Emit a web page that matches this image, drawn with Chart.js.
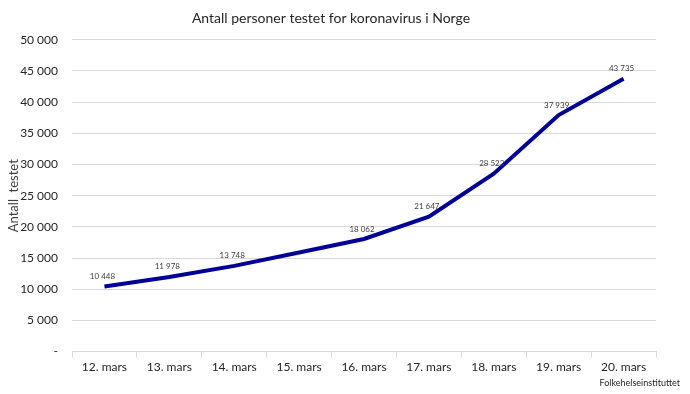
<!DOCTYPE html>
<html>
  <head>
    <meta charset="utf-8">
    <script src="https://cdn.jsdelivr.net/npm/chart.js@4"></script>
    <style>
      body { margin: 0; background: #fff; }
      #wrap { width: 690px; height: 394px; }
    </style>
  </head>
  <body>
    <div id="wrap"><canvas id="myChart"></canvas></div>

    <script>
      var days = ['12. mars', '13. mars', '14. mars', '15. mars', '16. mars', '17. mars', '18. mars', '19. mars', '20. mars']
      var tested = [10448, 11978, 13748, 15900, 18062, 21647, 28523, 37939, 43735]
      // 15. mars has no value label in the original
      var showLabel = [true, true, true, false, true, true, true, true, true]
      var yTicks = [0, 5000, 10000, 15000, 20000, 25000, 30000, 35000, 40000, 45000, 50000]
      var source = 'Folkehelseinstituttet'

      var fontName = 'Lato, "Open Sans", sans-serif'

      function fmt(v) {
        if (v === 0) return '-'
        return String(v).replace(/\B(?=(\d{3})+(?!\d))/g, ' ')
      }

      var valueLabels = {
        id: 'valueLabels',
        afterDatasetsDraw: function (chart) {
          var ctx = chart.ctx
          var meta = chart.getDatasetMeta(0)
          ctx.save()
          ctx.font = '8px ' + fontName
          ctx.fillStyle = '#404040'
          ctx.textAlign = 'center'
          ctx.textBaseline = 'bottom'
          meta.data.forEach(function (pt, i) {
            if (!showLabel[i]) return
            ctx.fillText(fmt(tested[i]), pt.x - 2, pt.y - 6)
          })
          ctx.restore()
        }
      }

      // source note in the bottom right corner
      var sourceNote = {
        id: 'sourceNote',
        afterDraw: function (chart) {
          var ctx = chart.ctx
          ctx.save()
          ctx.font = '9px ' + fontName
          ctx.fillStyle = '#262626'
          ctx.textAlign = 'right'
          ctx.textBaseline = 'middle'
          ctx.fillText(source, chart.width - 10, chart.height - 11)
          ctx.restore()
        }
      }

      var ctx = document.getElementById('myChart').getContext('2d')
      var chart = new Chart(ctx, {
        type: 'line',
        data: {
          labels: days,
          datasets: [{
            label: 'Antall testet',
            data: tested,
            borderColor: '#000099',
            backgroundColor: '#000099',
            borderWidth: 4,
            pointRadius: 0,
            tension: 0
          }]
        },
        plugins: [valueLabels, sourceNote],
        options: {
          responsive: true,
          maintainAspectRatio: false,
          animation: false,
          layout: { padding: { left: 6, right: 34, top: 6, bottom: 18 } },
          plugins: {
            legend: { display: false },
            tooltip: { enabled: false },
            title: {
              display: true,
              text: 'Antall personer testet for koronavirus i Norge',
              color: '#262626',
              font: { family: fontName, size: 14, weight: 'normal' },
              padding: { top: 4, bottom: 13 }
            }
          },
          scales: {
            x: {
              offset: true,
              grid: { display: true, offset: true, drawOnChartArea: false, drawTicks: true, tickLength: 6, color: '#d9d9d9' },
              border: { display: true, color: '#d9d9d9' },
              ticks: { color: '#262626', font: { family: fontName, size: 12 }, padding: 2, maxRotation: 0 }
            },
            y: {
              min: 0,
              max: 50000,
              afterBuildTicks: function (scale) {
                scale.ticks = yTicks.map(function (v) { return { value: v } })
              },
              afterFit: function (scale) { scale.width = 66 },
              grid: { color: '#d9d9d9', drawTicks: false },
              border: { display: false },
              ticks: {
                color: '#262626',
                padding: 14,
                font: { family: fontName, size: 12 },
                callback: function (v) { return fmt(v) }
              },
              title: {
                display: true,
                text: 'Antall  testet',
                color: '#404040',
                font: { family: fontName, size: 13 },
                padding: { top: 0, bottom: 0 }
              }
            }
          }
        }
      })
    </script>
  </body>
</html>
